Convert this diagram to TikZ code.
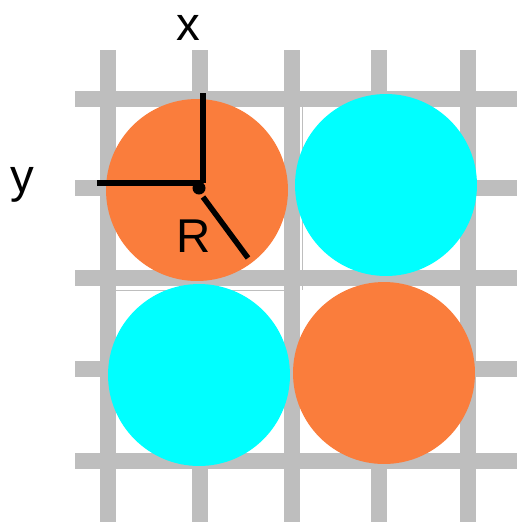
\documentclass[tikz,border=0pt]{standalone}
\usepackage{fontspec}
\setmainfont{Liberation Sans}
\usetikzlibrary{positioning}
\definecolor{cGrid}{RGB}{190,190,190}
\definecolor{cOrange}{RGB}{250,125,60}
\definecolor{cCyan}{RGB}{0,255,255}
\tikzset{
    gridline/.style={draw=cGrid, line width=0.32cm},
    thinline/.style={draw=cGrid, line width=0.3pt},
    atom/.style={circle, minimum size=3.64cm, inner sep=0pt, draw=none},
    axis/.style={draw=black, line width=0.11cm},
    label/.style={font=\fontsize{27}{31}\selectfont, inner sep=0pt},
}
\begin{document}
\begin{tikzpicture}[x=0.02cm, y=-0.02cm]
        \useasboundingbox (0,0) rectangle (523,522);
        % grid
        \foreach \gx in {108,200,292,379,468}
            \draw[gridline] (\gx,50) -- (\gx,522);
        \foreach \gy in {99,188,278,369,461}
            \draw[gridline] (75,\gy) -- (517,\gy);
        \draw[thinline] (110,290) -- (300,290);
        \draw[thinline] (302,100) -- (302,290);

        % atoms
        \node[atom, fill=cOrange] (tl) at (197,190) {};
        \node[atom, fill=cCyan]   (tr) at (386,185) {};
        \node[atom, fill=cCyan]   (bl) at (199,375) {};
        \node[atom, fill=cOrange] (br) at (384,373) {};

        % axes and radius
        \coordinate (o) at (202,185);
        \coordinate (xend) at (203,93);
        \coordinate (yend) at (97,183);
        \coordinate (rstart) at (203,197);
        \coordinate (rend) at (248,258);
        \draw[axis] (o |- yend) -- (yend);
        \draw[axis] (xend |- yend) -- (xend);
        \draw[axis] (rstart) -- (rend);
        \fill[black] (199,188) circle (0.13cm);

        \node[label] (xlab) at (188,28) {x};
        \node[label] (ylab) at (22,185) {y};
        \node[label] (rlab) at (194,236) {R};
    \end{tikzpicture}
\end{document}
